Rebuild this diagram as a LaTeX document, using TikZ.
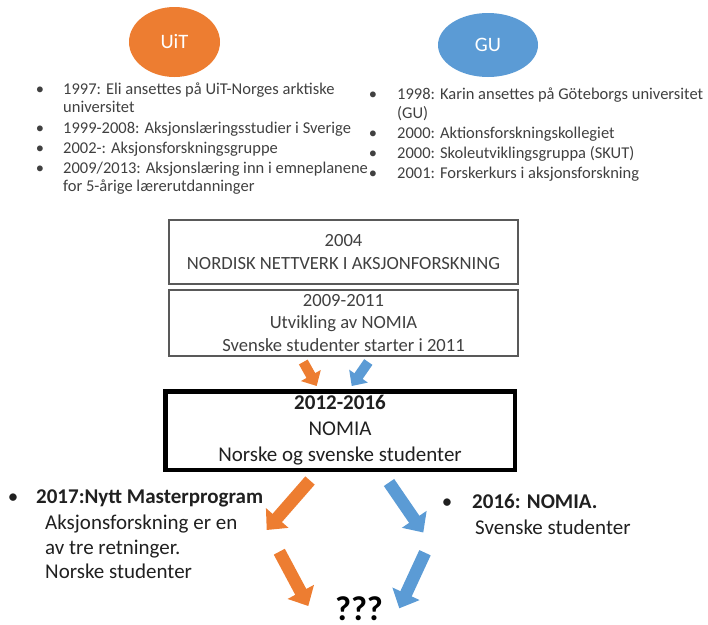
\documentclass[tikz,border=0pt]{standalone}
\usepackage{fontspec}
\setmainfont{Carlito}
\usetikzlibrary{arrows.meta,shapes.geometric}
\definecolor{uitorange}{HTML}{ED7D31}
\definecolor{gublue}{HTML}{5B9BD5}
\definecolor{txtgray}{HTML}{404040}
\definecolor{darktxt}{HTML}{202020}
\definecolor{boxgray}{HTML}{595959}
\begin{document}
\begin{tikzpicture}[x=1pt,y=-1pt,
  uni/.style={ellipse, inner sep=0pt, text=white, font=\fontsize{20.5}{24}\selectfont},
  li/.style={anchor=base west, inner sep=0pt, text=txtgray, font=\fontsize{16.5}{18}\selectfont},
  bul/.style={anchor=base, inner sep=0pt, text=txtgray, font=\fontsize{16.5}{18}\selectfont},
  bt/.style={anchor=base west, inner sep=0pt, text=darktxt, font=\fontsize{21}{25}\selectfont},
  bbul/.style={anchor=base, inner sep=0pt, text=darktxt, font=\fontsize{21}{25}\selectfont},
  boxa/.style={draw=boxgray, line width=1.8pt, minimum width=349pt, inner sep=0pt, align=center, text=txtgray, font=\fontsize{18.6}{22.3}\selectfont},
  boxb/.style={draw=black, line width=4.5pt, minimum width=349.5pt, minimum height=78.5pt, inner sep=0pt, align=center, text=darktxt, font=\fontsize{21}{26}\selectfont},
  barrow/.style={line width=12.5pt, -{Triangle[width=29pt,length=16pt]}},
  sarrow/.style={line width=10pt, -{Triangle[width=22pt,length=12pt]}},
]
\useasboundingbox (0,0) rectangle (708,624);

% universities
\node[uni, fill=uitorange, minimum width=91pt, minimum height=70pt] (uit) at (174.5,42) {UiT};
\node[uni, fill=gublue, minimum width=100pt, minimum height=64pt] (gu) at (488,45) {GU};

% left list
\node[bul] (lb1) at (40,94.5) {\textbullet};
\node[li] (l1a) at (63,94.5) {1997: Eli ansettes på UiT-Norges arktiske};
\node[li] (l1b) at (63,112.8) {universitet};
\node[bul] (lb2) at (40,133.8) {\textbullet};
\node[li] (l2) at (63,133.8) {1999-2008: Aksjonslæringsstudier i Sverige};
\node[bul] (lb3) at (40,153.2) {\textbullet};
\node[li] (l3) at (63,153.2) {2002-: Aksjonsforskningsgruppe};
\node[bul] (lb4) at (40,173.8) {\textbullet};
\node[li] (l4a) at (63,173.8) {2009/2013: Aksjonslæring inn i emneplanene};
\node[li] (l4b) at (63,191.2) {for 5-årige lærerutdanninger};

% right list
\node[bul] (rb1) at (373,99.8) {\textbullet};
\node[li] (r1a) at (397,99.8) {1998: Karin ansettes på Göteborgs universitet};
\node[li] (r1b) at (397,118.8) {(GU)};
\node[bul] (rb2) at (373,138.8) {\textbullet};
\node[li] (r2) at (397,138.8) {2000: Aktionsforskningskollegiet};
\node[bul] (rb3) at (373,158.8) {\textbullet};
\node[li] (r3) at (397,158.8) {2000: Skoleutviklingsgruppa (SKUT)};
\node[bul] (rb4) at (373,178.2) {\textbullet};
\node[li] (r4) at (397,178.2) {2001: Forskerkurs i aksjonsforskning};

% boxes
\node[boxa, minimum height=64pt] (box1) at (343.5,252) {2004\\NORDISK NETTVERK I AKSJONFORSKNING};
\node[boxa, minimum height=66pt] (box2) at (343.5,323) {2009-2011\\Utvikling av NOMIA\\Svenske studenter starter i 2011};
\node[boxb] (box3) at (340,430.5) {\textbf{2012-2016}\\NOMIA\\Norske og svenske studenter};

% arrow end points
\coordinate (o1s) at (303.3,362);
\coordinate (o1e) at (316.7,386);
\coordinate (u1s) at (368.3,362);
\coordinate (u1e) at (351.7,386);
\coordinate (o2s) at (310,480.5);
\coordinate (o2e) at (266.7,530);
\coordinate (u2s) at (389,482.5);
\coordinate (u2e) at (423.3,532.5);
\coordinate (o3s) at (279.3,551.7);
\coordinate (o3e) at (308.3,606);
\coordinate (u3s) at (425,552.7);
\coordinate (u3e) at (399.3,608.3);

\draw[sarrow, uitorange] (o1s) -- (o1e);
\draw[sarrow, gublue] (u1s) -- (u1e);
\draw[barrow, uitorange] (o2s) -- (o2e);
\draw[barrow, gublue] (u2s) -- (u2e);
\draw[barrow, uitorange] (o3s) -- (o3e);
\draw[barrow, gublue] (u3s) -- (u3e);

% bottom left text
\node[bbul] (blb) at (13,503.5) {\textbullet};
\node[bt] (bl1) at (36,503.5) {\textbf{2017:Nytt Masterprogram}};
\node[bt] (bl2) at (45,529.5) {Aksjonsforskning er en};
\node[bt] (bl3) at (45,554.5) {av tre retninger.};
\node[bt] (bl4) at (45,578.5) {Norske studenter};

% bottom right text
\node[bbul] (brb) at (447,508.5) {\textbullet};
\node[bt] (br1) at (472,508.5) {\textbf{2016: NOMIA.}};
\node[bt] (br2) at (475,534) {Svenske studenter};

% question marks
\node[anchor=base, inner sep=0pt, text=black, font=\fontsize{34.5}{40}\selectfont\bfseries] (qq) at (359,620) {???};
\end{tikzpicture}
\end{document}
